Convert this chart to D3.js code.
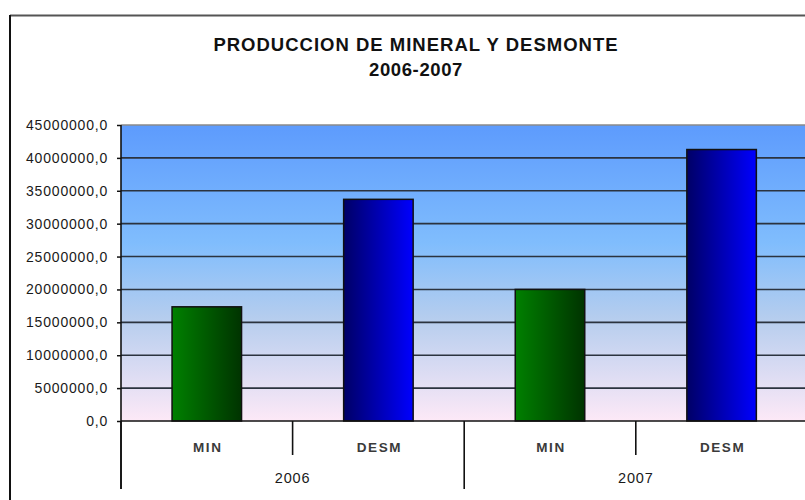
<!DOCTYPE html>
<html>
<head>
<meta charset="utf-8">
<script src="https://cdn.jsdelivr.net/npm/d3@7"></script>
<style>
    html, body { margin: 0; padding: 0; background: #fff; }
    svg { display: block; font-family: "Liberation Sans", Arial, sans-serif; }
</style>
</head>
<body>
<svg id="chart" width="805" height="500"></svg>
<script>
    let years = ["2006", "2007"];
    let types = ["MIN", "DESM"];
    let minValues = [17360000, 20000000];
    let desmValues = [33700000, 41270000];
    let yTicks = [0, 5000000, 10000000, 15000000, 20000000, 25000000, 30000000, 35000000, 40000000, 45000000];

    // flat list of bars, year by year
    let all_data = [];
    years.forEach((y, i) => {
        all_data.push({year: y, type: types[0], value: minValues[i]});
        all_data.push({year: y, type: types[1], value: desmValues[i]});
    });

    let svg = d3.select('#chart');
    let width = 805;
    let height = 500;
    let margin = {top: 125, left: 121, bottom: 79, right: -2.4};

    let x = d3.scaleBand()
        .domain(all_data.map(d => d.year + d.type))
        .range([margin.left, width - margin.right])
        .paddingInner(0.595)
        .paddingOuter(0.2975);
    let y = d3.scaleLinear().domain([0, 45000000]).range([height - margin.bottom, margin.top]);

    let defs = svg.append("defs");
    let bg = defs.append("linearGradient").attr("id", "bg")
        .attr("x1", 0).attr("y1", 0).attr("x2", 0).attr("y2", 1);
    bg.append("stop").attr("offset", "0").attr("stop-color", "#5d9bfd");
    bg.append("stop").attr("offset", "0.4").attr("stop-color", "#80bdfd");
    bg.append("stop").attr("offset", "0.65").attr("stop-color", "#b5cdee");
    bg.append("stop").attr("offset", "1").attr("stop-color", "#fde9f7");

    let gradH = (id, c1, c2) => {
        let g = defs.append("linearGradient").attr("id", id)
            .attr("x1", 0).attr("y1", 0).attr("x2", 1).attr("y2", 0);
        g.append("stop").attr("offset", "0").attr("stop-color", c1);
        g.append("stop").attr("offset", "1").attr("stop-color", c2);
    };
    gradH("gMin", "#008000", "#003300");
    gradH("gDesm", "#000066", "#0000ff");

    // outer chart border
    svg.append("line").attr("x1", 10).attr("x2", width).attr("y1", 15.5).attr("y2", 15.5)
        .attr("stroke", "#555").attr("stroke-width", 2);
    svg.append("line").attr("x1", 10).attr("x2", 10).attr("y1", 15).attr("y2", height)
        .attr("stroke", "#111").attr("stroke-width", 2);

    // title
    svg.append("text").attr("x", 416).attr("y", 51)
        .attr("text-anchor", "middle").attr("font-weight", "bold").attr("font-size", 18.5)
        .attr("letter-spacing", 1).attr("fill", "#111")
        .text("PRODUCCION DE MINERAL Y DESMONTE");
    svg.append("text").attr("x", 416).attr("y", 76)
        .attr("text-anchor", "middle").attr("font-weight", "bold").attr("font-size", 18.5)
        .attr("letter-spacing", 0.6).attr("fill", "#111")
        .text("2006-2007");

    // plot area
    svg.append("rect")
        .attr("x", margin.left).attr("y", y(45000000))
        .attr("width", width - margin.left + 5).attr("height", y(0) - y(45000000))
        .attr("fill", "url(#bg)");

    svg.append("g").selectAll("line")
        .data(yTicks.slice(1))
        .enter().append("line")
        .attr("x1", margin.left).attr("x2", width)
        .attr("y1", d => y(d)).attr("y2", d => y(d))
        .attr("stroke", d => d === 45000000 ? "#8a8a8a" : "#2b333f")
        .attr("stroke-width", 1.6);

    // y axis
    let yAxis = d3.axisLeft(y).tickValues(yTicks).tickSize(4).tickPadding(9)
        .tickFormat(d => d + ",0");
    let ya = svg.append("g")
        .attr("transform", "translate(" + margin.left + ",0)")
        .call(yAxis);
    ya.select(".domain").remove();
    ya.selectAll(".tick line").attr("stroke", "#111").attr("stroke-width", 1.5);
    ya.selectAll(".tick text").attr("font-size", 14).attr("letter-spacing", 0.8)
        .attr("fill", "#1a1a1a").attr("font-family", "Liberation Sans, Arial, sans-serif");
    svg.append("line").attr("x1", margin.left).attr("x2", margin.left)
        .attr("y1", y(45000000)).attr("y2", 489)
        .attr("stroke", "#111").attr("stroke-width", 1.6);

    // bars
    svg.selectAll("rect.bar")
        .data(all_data)
        .enter()
        .append("rect")
        .attr("class", "bar")
        .attr("x", d => x(d.year + d.type))
        .attr("y", d => y(d.value))
        .attr("width", x.bandwidth())
        .attr("height", d => y(0) - y(d.value))
        .attr("fill", d => d.type === "MIN" ? "url(#gMin)" : "url(#gDesm)")
        .attr("stroke", "#111").attr("stroke-width", 1.5);

    // x axis
    svg.append("line").attr("x1", margin.left).attr("x2", width)
        .attr("y1", y(0)).attr("y2", y(0))
        .attr("stroke", "#111").attr("stroke-width", 1.6);

    let step = x.step();
    let bounds = d3.range(all_data.length + 1).map(i => margin.left + i * step);
    svg.append("g").selectAll("line")
        .data(bounds)
        .enter().append("line")
        .attr("x1", d => d).attr("x2", d => d)
        .attr("y1", y(0))
        .attr("y2", (d, i) => i % 2 === 0 ? 489 : 455)
        .attr("stroke", "#111").attr("stroke-width", 1.6);

    svg.append("g").selectAll("text")
        .data(all_data)
        .enter().append("text")
        .attr("x", d => x(d.year + d.type) + x.bandwidth() / 2 + 1)
        .attr("y", 452)
        .attr("text-anchor", "middle")
        .attr("font-size", 13.5).attr("letter-spacing", 1.6)
        .attr("font-weight", 600)
        .attr("fill", "#3a3a3a")
        .text(d => d.type);

    svg.append("g").selectAll("text")
        .data(years)
        .enter().append("text")
        .attr("x", (d, i) => margin.left + (2 * i + 1) * step)
        .attr("y", 483)
        .attr("text-anchor", "middle")
        .attr("font-size", 14.5).attr("letter-spacing", 0.8)
        .attr("fill", "#1a1a1a")
        .text(d => d);
</script>
</body>
</html>
